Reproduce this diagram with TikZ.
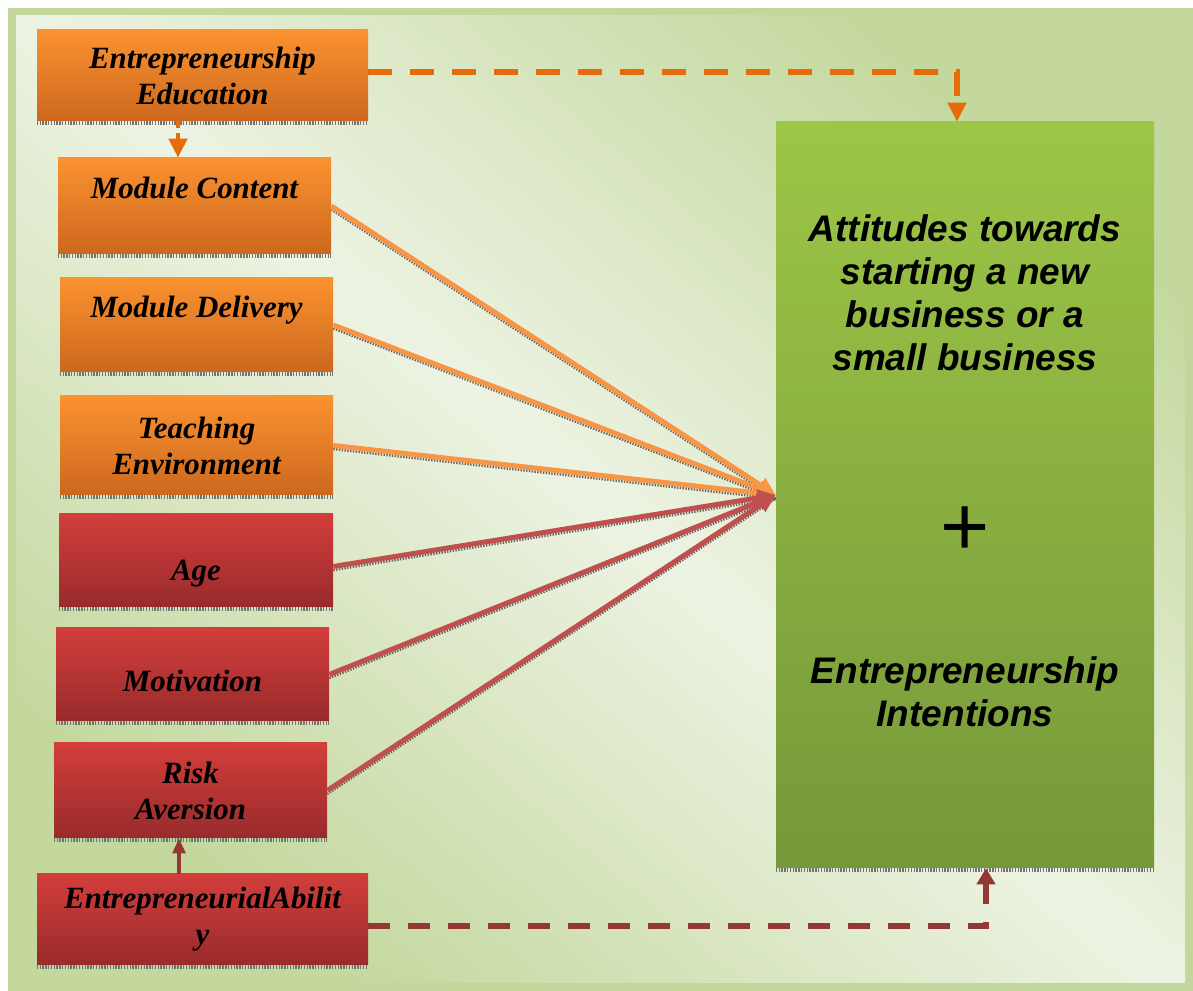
\documentclass[tikz,border=0pt]{standalone}
\usepackage{fontspec}
\setmainfont{Liberation Serif}
\newfontfamily\arialfont{Liberation Sans}
\usetikzlibrary{arrows.meta}

\definecolor{framegreen}{HTML}{C3D69B}
\definecolor{bglight}{HTML}{EDF3E3}
\definecolor{bgdark}{HTML}{C4D89E}
\definecolor{orangetop}{HTML}{FB9230}
\definecolor{orangebot}{HTML}{CC681E}
\definecolor{redtop}{HTML}{D23E3B}
\definecolor{redbot}{HTML}{992B2C}
\definecolor{greentop}{HTML}{9CC646}
\definecolor{greenbot}{HTML}{76983A}
\definecolor{orangeline}{HTML}{F79646}
\definecolor{redline}{HTML}{C0504D}
\definecolor{orangedash}{HTML}{E46C0A}
\definecolor{reddash}{HTML}{953735}

\newcommand\boxfont{\fontsize{22}{25.6}\selectfont\bfseries\itshape}
\newcommand\goalfont{\arialfont\fontsize{26.3}{30.6}\selectfont\bfseries\itshape}

\tikzset{
	stripeline/.style={draw=black!55, line width=0.1cm, dash pattern=on 1pt off 1pt},
	striped/.style={append after command={\pgfextra{\draw[stripeline] ([yshift=-0.05cm]\tikzlastnode.south west) -- ([yshift=-0.05cm]\tikzlastnode.south east);}}},
	orangebox/.style={top color=orangetop, bottom color=orangebot, inner sep=0pt, align=center, font=\boxfont, striped},
	redbox/.style={top color=redtop, bottom color=redbot, inner sep=0pt, align=center, font=\boxfont, striped},
	goalbox/.style={top color=greentop, bottom color=greenbot, inner sep=0pt, striped},
	shadowed/.style={preaction={-, draw=black!60, line width=0.06cm, dash pattern=on 1pt off 1pt, transform canvas={yshift=-0.09cm}}},
	orangearrow/.style={draw=orangeline, line width=0.125cm, -{Triangle[length=0.45cm,width=0.4cm]}, shadowed},
	redarrow/.style={draw=redline, line width=0.125cm, -{Triangle[length=0.45cm,width=0.4cm]}, shadowed},
	orangedashed/.style={draw=orangedash, line width=0.15cm, dash pattern=on 0.6cm off 0.45cm, -{Triangle[length=0.48cm,width=0.45cm]}},
	reddashed/.style={draw=reddash, line width=0.14cm, dash pattern=on 0.55cm off 0.45cm, -{Triangle[length=0.4cm,width=0.45cm]}}
}

\begin{document}
\begin{tikzpicture}
	\useasboundingbox (0,0) rectangle (29.825,24.775);
	% frame and background
	\fill[framegreen] (0.2,0) rectangle (29.825,24.575);
	\shade[top color=bgdark, bottom color=bgdark, middle color=bglight, shading angle=-40] (0.4,0.2) rectangle (29.625,24.375);

	% boxes on the left
	\draw (5.0625,22.8875) node[orangebox, minimum width=8.275cm, minimum height=2.275cm](ee) {Entrepreneurship\\Education};
	\draw (4.8625,19.625) node[orangebox, minimum width=6.825cm, minimum height=2.4cm](mc) {Module Content\\~};
	\draw (4.9125,16.65) node[orangebox, minimum width=6.825cm, minimum height=2.35cm](md) {Module Delivery\\~};
	\draw (4.9125,13.6375) node[orangebox, minimum width=6.825cm, minimum height=2.475cm](te) {Teaching\\Environment};
	\draw (4.9,10.7625) node[redbox, minimum width=6.85cm, minimum height=2.325cm, text height=1.15cm](age) {Age};
	\draw (4.8125,7.9125) node[redbox, minimum width=6.825cm, minimum height=2.325cm, text height=0.87cm](mot) {Motivation};
	\draw (4.7625,5.0125) node[redbox, minimum width=6.825cm, minimum height=2.375cm](ra) {Risk\\Aversion};
	\draw (5.0625,1.7875) node[redbox, minimum width=8.275cm, minimum height=2.275cm](ea) {EntrepreneurialAbilit\\y};

	% box on the right
	\draw (24.125,12.4) node[goalbox, minimum width=9.45cm, minimum height=18.65cm](goal) {};
	\draw (24.125,17.45) node[font=\goalfont, align=center](att) {Attitudes towards\\starting a new\\business or a\\small business};
	\draw (24.125,11.5) node[font=\arialfont\fontsize{60}{60}\selectfont, inner sep=0pt](plus) {+};
	\draw (24.125,7.47) node[font=\goalfont, align=center](intent) {Entrepreneurship\\Intentions};

	% connectors
	\draw[orangedashed] ([yshift=0.08cm]ee.east) -| ([xshift=-0.2cm]goal.north);
	\draw[orangedashed, line width=0.12cm, dash pattern=on 0.16cm off 0.14cm] ([xshift=-0.6125cm]ee.south) -- ([xshift=-0.6125cm]ee.south |- mc.north);
	\draw[orangearrow] (mc.east) -- (goal.west);
	\draw[orangearrow] (md.east) -- (goal.west);
	\draw[orangearrow] (te.east) -- (goal.west);
	\draw[redarrow] ([yshift=-0.15cm]age.east) -- (goal.west);
	\draw[redarrow] (mot.east) -- (goal.west);
	\draw[redarrow] (ra.east) -- (goal.west);
	\draw[draw=reddash, line width=0.11cm, -{Triangle[length=0.38cm,width=0.32cm]}] ([xshift=-0.5875cm]ea.north) -- ([xshift=-0.5875cm]ea.north |- ra.south);
	\draw[reddashed] ([yshift=-0.16cm]ea.east) -| ([xshift=0.525cm]goal.south);
\end{tikzpicture}
\end{document}
